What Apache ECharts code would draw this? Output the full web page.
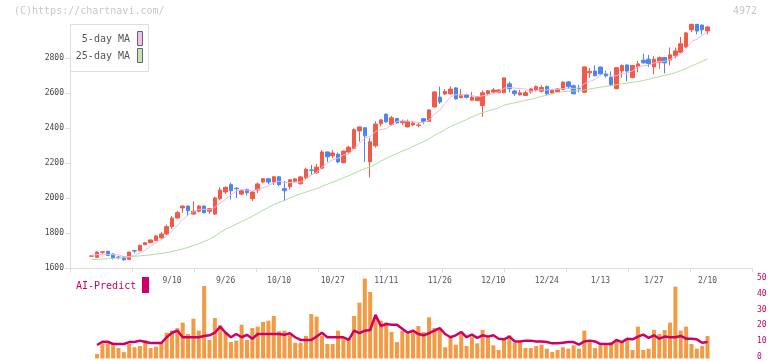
<!DOCTYPE html>
<html><head><meta charset="utf-8">
<script src="https://cdn.jsdelivr.net/npm/echarts@6/dist/echarts.min.js"></script>
<style>html,body{margin:0;padding:0;background:#fff}#c{width:772px;height:361px}</style>
</head><body><div id="c"></div>
<script>
const dates = ['8/20','8/21','8/22','8/25','8/26','8/27','8/28','8/29','9/1','9/2','9/3','9/4','9/5','9/8','9/9','9/10','9/11','9/12','9/16','9/17','9/18','9/19','9/22','9/24','9/25','9/26','9/29','9/30','10/1','10/2','10/3','10/6','10/7','10/8','10/9','10/10','10/14','10/15','10/16','10/17','10/20','10/21','10/22','10/23','10/24','10/27','10/28','10/29','10/30','10/31','11/4','11/5','11/6','11/7','11/10','11/11','11/12','11/13','11/14','11/17','11/18','11/19','11/20','11/21','11/25','11/26','11/27','11/28','12/1','12/2','12/3','12/4','12/5','12/8','12/9','12/10','12/11','12/12','12/15','12/16','12/17','12/18','12/19','12/22','12/23','12/24','12/25','12/26','12/29','12/30','1/5','1/6','1/7','1/8','1/9','1/13','1/14','1/15','1/16','1/19','1/20','1/21','1/22','1/23','1/26','1/27','1/28','1/29','1/30','2/2','2/3','2/4','2/5','2/6','2/9','2/10'];
const dateLabels = ['9/10','9/26','10/10','10/27','11/11','11/26','12/10','12/24','1/13','1/27','2/10'];
const opens = [1669,1663,1692,1697,1682,1664,1666,1651,1701,1700,1735,1746,1758,1773,1796,1838,1887,1945,1956,1910,1926,1956,1926,1910,1998,2036,2078,2057,2024,2051,1998,2047,2093,2112,2093,2123,2055,2066,2097,2083,2117,2162,2146,2172,2265,2243,2252,2203,2265,2285,2385,2403,2209,2300,2426,2481,2421,2456,2432,2408,2420,2417,2455,2440,2522,2578,2596,2597,2631,2576,2591,2561,2558,2530,2599,2607,2604,2604,2654,2613,2591,2588,2608,2620,2612,2639,2602,2609,2622,2665,2643,2628,2606,2717,2727,2750,2711,2692,2627,2728,2762,2690,2751,2789,2795,2751,2778,2804,2790,2814,2834,2865,2963,2994,2990,2956];
const closes = [1671,1693,1694,1674,1659,1662,1649,1693,1699,1731,1746,1762,1785,1796,1838,1887,1918,1956,1929,1926,1956,1918,1941,2002,2047,2063,2043,2055,2043,2032,2036,2082,2112,2093,2123,2078,2043,2106,2111,2122,2166,2160,2178,2265,2237,2259,2208,2270,2292,2392,2408,2357,2323,2424,2448,2437,2460,2431,2440,2439,2430,2419,2440,2505,2608,2550,2610,2624,2568,2591,2577,2578,2580,2603,2614,2619,2619,2688,2626,2598,2603,2603,2625,2638,2633,2597,2618,2625,2664,2638,2597,2626,2751,2725,2700,2711,2700,2650,2746,2759,2727,2759,2768,2774,2770,2795,2804,2774,2820,2842,2883,2945,2994,2956,2963,2979];
const lows = [1668,1659,1680,1672,1651,1651,1643,1647,1686,1699,1732,1744,1755,1770,1790,1826,1885,1918,1899,1908,1920,1914,1910,1905,1990,2025,1994,2002,2018,2015,1985,2030,2085,2080,2075,2070,1984,2050,2090,2078,2110,2134,2140,2165,2208,2230,2200,2200,2255,2280,2323,2208,2119,2290,2412,2430,2415,2428,2420,2405,2412,2405,2425,2437,2518,2540,2590,2592,2565,2570,2570,2558,2555,2466,2590,2600,2600,2600,2604,2585,2588,2585,2598,2610,2605,2590,2597,2605,2620,2625,2595,2605,2602,2688,2698,2708,2690,2640,2622,2690,2670,2686,2720,2770,2750,2709,2740,2714,2760,2800,2832,2860,2950,2937,2937,2937];
const highs = [1672,1696,1695,1700,1684,1670,1670,1694,1706,1735,1750,1764,1790,1807,1850,1899,1929,1958,1958,1983,1960,1960,1945,2010,2063,2068,2089,2063,2050,2055,2040,2090,2114,2114,2126,2126,2100,2110,2116,2128,2175,2191,2195,2275,2267,2275,2262,2272,2300,2400,2410,2405,2345,2440,2452,2483,2470,2460,2450,2450,2440,2430,2457,2508,2612,2638,2625,2640,2635,2625,2597,2608,2585,2616,2618,2630,2622,2690,2666,2620,2618,2615,2630,2645,2645,2645,2625,2630,2668,2670,2650,2648,2752,2745,2760,2752,2730,2725,2750,2765,2765,2762,2785,2826,2820,2812,2810,2806,2862,2862,2922,2950,2998,2996,2992,2986];
const ma5 = [1675,1678,1680,1680,1678,1676,1668,1667,1672,1687,1704,1726,1745,1764,1785,1814,1845,1879,1906,1923,1937,1937,1934,1949,1973,1994,2019,2042,2050,2047,2042,2050,2061,2071,2089,2098,2090,2089,2092,2092,2110,2133,2147,2178,2201,2220,2229,2248,2253,2284,2314,2344,2354,2381,2392,2398,2418,2440,2443,2441,2440,2432,2434,2447,2480,2504,2543,2579,2592,2589,2594,2588,2579,2586,2590,2599,2607,2629,2633,2630,2627,2624,2611,2613,2620,2619,2622,2622,2627,2628,2628,2630,2655,2667,2680,2703,2717,2697,2701,2713,2716,2728,2752,2757,2760,2773,2782,2783,2793,2807,2825,2853,2897,2908,2932,2951];
const ma25 = [1650,1651,1653,1655,1657,1659,1662,1665,1668,1671,1674,1677,1681,1685,1690,1696,1703,1711,1720,1730,1741,1753,1766,1783,1805,1822,1837,1852,1867,1882,1897,1915,1932,1948,1964,1977,1988,2001,2014,2025,2036,2046,2055,2068,2080,2093,2104,2117,2129,2143,2157,2169,2180,2195,2212,2228,2243,2256,2270,2282,2296,2311,2325,2340,2360,2375,2393,2411,2423,2437,2450,2465,2477,2490,2499,2507,2517,2532,2540,2546,2553,2559,2566,2574,2582,2589,2597,2604,2610,2612,2613,2614,2619,2625,2630,2635,2640,2643,2649,2654,2659,2664,2667,2673,2680,2688,2696,2702,2709,2718,2729,2742,2757,2769,2782,2797];
const volume = [null,2.8,9.4,9.4,8.2,6.5,4.0,9.0,7.0,7.8,11.5,6.5,7.3,9.4,16.0,17.3,18.9,22.3,15.2,24.7,17.3,45.0,11.5,25.2,20.6,16.5,10.2,11.1,21.0,11.5,18.9,19.8,22.7,23.5,26.4,16.9,17.3,14.4,9.8,9.8,14.0,27.6,26.0,14.0,9.0,9.0,17.3,13.2,11.9,26.4,34.7,49.6,41.3,24.7,23.5,22.3,16.5,10.2,17.3,15.2,16.9,20.2,16.5,25.6,18.9,18.1,7.0,13.2,8.6,15.2,7.8,13.2,9.4,17.7,13.2,8.2,5.3,11.5,14.4,9.8,10.2,6.5,6.5,7.8,8.6,6.1,4.0,5.3,7.0,6.1,8.2,6.1,17.3,10.2,6.5,8.2,8.2,10.2,11.5,10.6,11.5,5.3,19.8,5.3,6.1,17.7,15.2,17.7,22.3,44.6,17.3,19.8,9.0,6.1,7.8,14.0];
const aiPredict = [null,8.4,10.4,10.4,9.0,9.0,9.0,10.2,10.2,11.1,10.2,9.6,9.6,9.6,13.2,16.0,17.3,13.2,13.2,13.2,13.2,14.0,14.4,16.0,19.8,16.0,13.2,15.2,13.2,14.7,12.3,15.2,15.2,15.2,15.2,15.2,14.7,15.7,13.2,11.5,11.5,11.5,13.6,16.0,13.2,13.2,13.2,13.2,11.5,17.3,15.7,17.3,17.7,27.1,20.2,21.4,21.0,21.0,18.5,16.0,17.3,15.2,14.4,15.7,17.3,18.9,15.2,13.2,14.4,16.5,13.2,14.8,12.8,14.4,13.6,14.4,12.3,11.9,13.6,10.6,10.6,11.1,11.1,10.6,10.6,10.2,9.4,9.4,9.8,10.2,10.2,8.6,10.6,11.1,10.6,9.0,9.0,9.0,11.5,10.2,12.3,11.9,13.6,14.8,12.8,14.4,12.3,13.6,13.2,13.2,14.0,12.3,12.3,11.9,9.8,10.2];

const MONO = '"DejaVu Sans Mono","Liberation Mono",monospace';
const candleData = opens.map((o, i) => [o, closes[i], lows[i], highs[i]]);
const UP = '#f05a46', DOWN = '#4a86ee', CRIMSON = '#cc0066';
const cLeft = 89.02, cWidth = 621.18;

const chart = echarts.init(document.getElementById('c'), null, {renderer: 'canvas'});
chart.setOption({
  animation: false,
  backgroundColor: '#fff',
  grid: [
    {left: 70, width: 682, top: 58.3, height: 210},
    {left: cLeft, width: cWidth, top: 14.55, height: 253.75},
    {left: cLeft, width: cWidth, top: 278, height: 80.5},
    {left: 70, width: 682, top: 278, height: 80.5}
  ],
  xAxis: [
    {gridIndex: 0, type: 'value', min: 0, max: 11, interval: 1,
     axisLine: {show: true, lineStyle: {color: '#dddddd'}},
     axisTick: {show: true, length: 4, lineStyle: {color: '#dddddd'}},
     axisLabel: {show: false}, splitLine: {show: false}},
    {gridIndex: 1, type: 'category', data: dates, boundaryGap: true,
     axisLine: {show: false}, axisTick: {show: false}, splitLine: {show: false},
     axisLabel: {interval: 0, margin: 9, fontFamily: MONO, fontSize: 8, color: '#555',
       formatter: v => dateLabels.includes(v) ? v : ''}},
    {gridIndex: 2, type: 'category', data: dates, boundaryGap: true, show: false},
    {gridIndex: 3, type: 'value', min: 0, max: 1, show: false}
  ],
  yAxis: [
    {gridIndex: 0, type: 'value', min: 1600, max: 2800, interval: 200,
     axisLine: {show: true, lineStyle: {color: '#dddddd'}},
     axisTick: {show: true, length: 5, lineStyle: {color: '#dddddd'}},
     axisLabel: {margin: 6, fontFamily: MONO, fontSize: 8, color: '#444', formatter: v => String(v)},
     splitLine: {show: false}},
    {gridIndex: 1, type: 'value', min: 1600, max: 3050, show: false},
    {gridIndex: 2, type: 'value', min: 0, max: 50, show: false},
    {gridIndex: 3, type: 'value', position: 'right', min: 0, max: 50, interval: 10,
     axisLine: {show: false}, axisTick: {show: false}, splitLine: {show: false},
     axisLabel: {margin: 5, fontFamily: MONO, fontSize: 8, color: CRIMSON, formatter: v => String(v)}}
  ],
  series: [
    {name: '25-day MA', type: 'line', xAxisIndex: 1, yAxisIndex: 1, data: ma25,
     showSymbol: false, lineStyle: {color: '#b4dca4', width: 1}},
    {name: '5-day MA', type: 'line', xAxisIndex: 1, yAxisIndex: 1, data: ma5,
     showSymbol: false, lineStyle: {color: '#ecb8ec', width: 1}},
    {name: 'Price', type: 'candlestick', xAxisIndex: 1, yAxisIndex: 1, data: candleData,
     barWidth: 4,
     itemStyle: {color: UP, color0: DOWN, borderColor: UP, borderColor0: DOWN, borderWidth: 1}},
    {name: 'Volume', type: 'bar', xAxisIndex: 2, yAxisIndex: 2, data: volume,
     barWidth: 4, itemStyle: {color: '#f39a43'}},
    {name: 'AI-Predict', type: 'line', xAxisIndex: 2, yAxisIndex: 2, data: aiPredict,
     showSymbol: false, lineStyle: {color: CRIMSON, width: 2.5}}
  ],
  graphic: [
    {type: 'text', left: 14, top: 6, z: 10, style: {text: '(C)https://chartnavi.com/', font: '10px ' + MONO, fill: '#c8c8c8'}},
    {type: 'text', right: 15, top: 6, z: 10, style: {text: '4972', font: '10px ' + MONO, fill: '#c8c8c8'}},
    {type: 'rect', z: 10, shape: {x: 70.5, y: 24.5, width: 78, height: 47}, style: {fill: '#fff', stroke: '#dddddd', lineWidth: 1}},
    {type: 'text', z: 11, x: 130, y: 39, style: {text: '5-day MA', font: '10px ' + MONO, fill: '#555', align: 'right', verticalAlign: 'middle'}},
    {type: 'rect', z: 11, shape: {x: 137.5, y: 31.5, width: 5, height: 14}, style: {fill: '#f0c0f0', stroke: '#666', lineWidth: 1}},
    {type: 'text', z: 11, x: 130, y: 56.5, style: {text: '25-day MA', font: '10px ' + MONO, fill: '#555', align: 'right', verticalAlign: 'middle'}},
    {type: 'rect', z: 11, shape: {x: 137.5, y: 48.5, width: 5, height: 14}, style: {fill: '#c4e4b4', stroke: '#666', lineWidth: 1}},
    {type: 'text', z: 11, x: 76, y: 286, style: {text: 'AI-Predict', font: '10px ' + MONO, fill: CRIMSON, verticalAlign: 'middle'}},
    {type: 'rect', z: 11, shape: {x: 142, y: 277, width: 7, height: 16}, style: {fill: CRIMSON}}
  ]
});
</script>
</body></html>
